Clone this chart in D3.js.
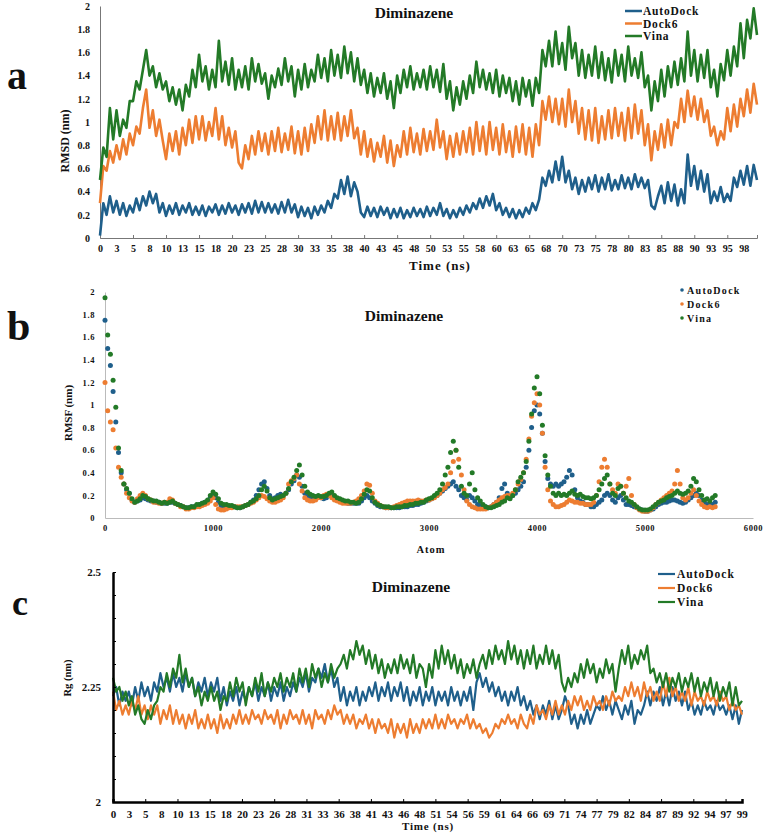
<!DOCTYPE html>
<html>
<head>
<meta charset="utf-8">
<script src="https://cdn.jsdelivr.net/npm/d3@7"></script>
<style>
  body { margin: 0; background: #fff; }
  svg text { font-family: "Liberation Serif", "Times New Roman", serif; font-weight: bold; fill: #111; }
</style>
</head>
<body>
<svg id="chart" width="767" height="833"></svg>
<script>
// colours of the three docking programs
var seriesNames = ["AutoDock", "Dock6", "Vina"];
var seriesColors = ["#1f5f8b", "#ed7d31", "#237a27"];

// ---- (a) RMSD, one reading every 0.5 ns ----
var rmsdTime = d3.range(0, 100, 0.5);
var rmsdAutoDock = [
  0.02,0.30,0.20,0.36,0.22,0.32,0.20,0.30,0.19,0.28, 0.22,0.34,0.24,0.36,0.28,0.40,0.30,0.38,0.22,0.30,
  0.19,0.28,0.21,0.30,0.20,0.28,0.22,0.30,0.20,0.27, 0.20,0.28,0.19,0.27,0.22,0.29,0.20,0.28,0.21,0.30,
  0.22,0.28,0.20,0.29,0.22,0.30,0.21,0.32,0.22,0.31, 0.22,0.30,0.22,0.29,0.21,0.31,0.22,0.33,0.22,0.29,
  0.18,0.27,0.19,0.26,0.17,0.27,0.20,0.28,0.22,0.32, 0.26,0.38,0.34,0.50,0.38,0.53,0.36,0.48,0.40,0.22,
  0.18,0.27,0.19,0.26,0.18,0.27,0.20,0.26,0.17,0.25, 0.18,0.26,0.17,0.24,0.18,0.26,0.19,0.25,0.18,0.27,
  0.19,0.26,0.20,0.30,0.19,0.25,0.17,0.24,0.18,0.26, 0.20,0.28,0.22,0.30,0.25,0.34,0.26,0.36,0.28,0.38,
  0.24,0.30,0.20,0.26,0.18,0.25,0.17,0.24,0.18,0.26, 0.21,0.30,0.24,0.33,0.52,0.45,0.58,0.48,0.66,0.50,
  0.70,0.48,0.58,0.42,0.52,0.38,0.50,0.40,0.52,0.42, 0.54,0.40,0.52,0.42,0.55,0.41,0.50,0.42,0.54,0.43,
  0.52,0.42,0.55,0.44,0.52,0.43,0.50,0.28,0.25,0.36, 0.45,0.30,0.48,0.32,0.46,0.28,0.42,0.30,0.72,0.45,
  0.62,0.42,0.58,0.40,0.55,0.30,0.40,0.32,0.44,0.31, 0.38,0.32,0.52,0.44,0.58,0.46,0.62,0.45,0.63,0.50
];
var rmsdDock6 = [
  0.30,0.62,0.58,0.75,0.65,0.80,0.68,0.85,0.72,0.90, 0.80,0.96,0.90,1.12,1.28,0.95,1.10,0.88,1.02,0.84,
  0.68,0.90,0.75,0.92,0.72,0.95,0.80,1.02,0.82,1.05, 0.85,1.05,0.84,1.00,0.88,1.12,0.85,1.05,0.80,0.95,
  0.78,0.92,0.65,0.60,0.80,0.68,0.88,0.72,0.92,0.75, 0.90,0.72,0.92,0.75,0.95,0.74,0.90,0.76,0.96,0.73,
  0.92,0.72,0.95,0.75,0.98,0.82,1.05,0.85,1.10,0.84, 1.05,0.85,1.08,0.84,1.05,0.88,1.10,0.86,0.95,0.72,
  0.92,0.70,0.85,0.66,0.82,0.70,0.88,0.65,0.84,0.62, 0.80,0.70,0.92,0.72,0.95,0.74,0.90,0.72,0.94,0.75,
  0.92,0.76,1.02,0.78,0.92,0.68,0.88,0.70,0.90,0.72, 0.92,0.74,0.95,0.72,1.00,0.75,0.96,0.72,1.00,0.76,
  0.95,0.72,0.98,0.74,0.92,0.70,0.96,0.74,0.98,0.72, 0.95,0.70,0.98,0.80,1.18,1.02,1.22,1.00,1.20,0.98,
  1.20,0.96,1.28,1.00,1.18,0.90,1.12,0.85,1.10,0.84, 1.12,0.82,1.05,0.85,1.10,0.86,1.12,0.88,1.08,0.84,
  1.12,0.86,1.15,0.90,1.10,0.80,0.98,0.67,0.92,0.76, 0.98,0.78,1.02,0.80,1.00,0.95,1.20,1.00,1.27,1.05,
  1.22,1.02,1.20,1.00,1.10,0.88,0.96,0.80,0.92,0.85, 1.12,0.92,1.15,0.96,1.20,1.05,1.28,1.08,1.33,1.15
];
var rmsdVina = [
  0.50,0.78,0.70,1.12,0.85,1.10,0.88,1.02,0.95,1.18, 1.18,1.35,1.28,1.45,1.62,1.40,1.48,1.30,1.42,1.28,
  1.35,1.18,1.30,1.15,1.28,1.10,1.32,1.22,1.45,1.30, 1.58,1.35,1.48,1.28,1.45,1.30,1.70,1.35,1.52,1.32,
  1.55,1.28,1.45,1.30,1.48,1.28,1.55,1.35,1.50,1.33, 1.42,1.20,1.40,1.30,1.46,1.32,1.55,1.35,1.48,1.22,
  1.45,1.28,1.50,1.30,1.45,1.35,1.58,1.38,1.55,1.35, 1.62,1.40,1.58,1.38,1.65,1.42,1.60,1.35,1.55,1.32,
  1.45,1.25,1.42,1.22,1.38,1.25,1.42,1.20,1.35,1.12, 1.40,1.25,1.45,1.30,1.48,1.28,1.42,1.30,1.45,1.28,
  1.48,1.30,1.45,1.26,1.50,1.20,1.35,1.10,1.30,1.15, 1.35,1.20,1.40,1.25,1.52,1.30,1.45,1.28,1.42,1.25,
  1.45,1.22,1.40,1.25,1.38,1.18,1.35,1.15,1.38,1.22, 1.36,1.14,1.38,1.25,1.62,1.48,1.70,1.48,1.78,1.50,
  1.68,1.45,1.82,1.55,1.68,1.40,1.62,1.38,1.58,1.40, 1.65,1.38,1.60,1.36,1.55,1.34,1.62,1.40,1.58,1.35,
  1.65,1.40,1.55,1.38,1.60,1.30,1.40,1.10,1.35,1.18, 1.45,1.22,1.48,1.30,1.52,1.32,1.55,1.35,1.78,1.40,
  1.62,1.35,1.58,1.38,1.62,1.30,1.45,1.22,1.50,1.36, 1.62,1.40,1.65,1.48,1.85,1.55,1.88,1.72,1.98,1.75
];
var rmsdXLabels = ["0","3","5","8","10","13","15","18","20","23","25","28","30","33","35","38","40","43","45","48",
  "50","53","55","58","60","63","65","68","70","73","75","78","80","83","85","88","90","93","95","98"];
var rmsdYTicks = [0, 0.2, 0.4, 0.6, 0.8, 1, 1.2, 1.4, 1.6, 1.8, 2];

// ---- (b) RMSF, one reading every 25 atoms ----
var rmsfAtom = d3.range(0, 5651, 25);
var rmsfAutoDock = [
  1.75,1.50,1.35,1.12,0.85,0.58,0.40,0.30,0.25,0.22, 0.16,0.14,0.15,0.16,0.18,0.17,0.16,0.15,0.15,0.14,
  0.14,0.13,0.13,0.13,0.14,0.14,0.13,0.12,0.11,0.10, 0.09,0.09,0.10,0.10,0.11,0.12,0.13,0.14,0.15,0.18,
  0.20,0.18,0.14,0.11,0.10,0.10,0.10,0.10,0.10,0.09, 0.09,0.10,0.11,0.12,0.14,0.16,0.20,0.25,0.30,0.32,
  0.26,0.20,0.17,0.18,0.20,0.21,0.20,0.22,0.25,0.30, 0.33,0.38,0.36,0.28,0.22,0.20,0.19,0.18,0.18,0.19,
  0.18,0.17,0.18,0.20,0.19,0.17,0.16,0.15,0.14,0.14, 0.13,0.13,0.13,0.13,0.13,0.15,0.18,0.20,0.18,0.15,
  0.13,0.11,0.10,0.10,0.09,0.09,0.09,0.09,0.09,0.09, 0.10,0.10,0.10,0.11,0.11,0.12,0.12,0.13,0.14,0.15,
  0.16,0.17,0.19,0.20,0.22,0.24,0.26,0.28,0.30,0.32, 0.28,0.25,0.20,0.18,0.16,0.20,0.18,0.15,0.12,0.11,
  0.10,0.10,0.09,0.10,0.12,0.14,0.18,0.26,0.30,0.22, 0.18,0.20,0.22,0.25,0.28,0.32,0.45,0.60,0.80,0.95,
  1.00,0.92,0.75,0.50,0.35,0.30,0.28,0.30,0.28,0.30, 0.32,0.36,0.42,0.38,0.25,0.18,0.15,0.14,0.12,0.12,
  0.10,0.10,0.12,0.14,0.16,0.20,0.22,0.20,0.16,0.14, 0.18,0.20,0.16,0.12,0.12,0.11,0.10,0.09,0.08,0.07,
  0.06,0.06,0.07,0.08,0.10,0.12,0.13,0.14,0.14,0.15, 0.16,0.16,0.15,0.14,0.13,0.14,0.16,0.18,0.20,0.22,
  0.20,0.16,0.14,0.12,0.12,0.12,0.14
];
var rmsfDock6 = [
  1.20,0.95,0.85,0.78,0.62,0.45,0.36,0.30,0.22,0.18, 0.15,0.14,0.17,0.20,0.22,0.20,0.17,0.16,0.14,0.14,
  0.13,0.13,0.14,0.14,0.17,0.16,0.13,0.12,0.10,0.10, 0.08,0.08,0.09,0.09,0.10,0.10,0.11,0.12,0.13,0.15,
  0.18,0.12,0.08,0.07,0.07,0.08,0.09,0.09,0.10,0.10, 0.10,0.10,0.11,0.12,0.13,0.14,0.16,0.18,0.20,0.19,
  0.17,0.15,0.14,0.14,0.15,0.16,0.18,0.22,0.30,0.33, 0.35,0.38,0.30,0.24,0.18,0.16,0.15,0.15,0.16,0.18,
  0.18,0.20,0.21,0.20,0.18,0.16,0.15,0.14,0.13,0.13, 0.13,0.13,0.14,0.15,0.17,0.20,0.24,0.30,0.29,0.22,
  0.15,0.13,0.11,0.10,0.09,0.09,0.09,0.10,0.11,0.12, 0.13,0.14,0.15,0.15,0.15,0.15,0.16,0.15,0.15,0.16,
  0.16,0.17,0.18,0.20,0.22,0.25,0.27,0.30,0.40,0.50, 0.60,0.52,0.38,0.25,0.15,0.12,0.10,0.09,0.08,0.08,
  0.08,0.08,0.09,0.10,0.12,0.14,0.16,0.18,0.19,0.20, 0.20,0.22,0.25,0.30,0.34,0.40,0.52,0.70,0.90,1.02,
  1.10,1.00,0.75,0.45,0.25,0.15,0.12,0.10,0.10,0.11, 0.12,0.14,0.16,0.15,0.14,0.14,0.13,0.13,0.12,0.12,
  0.12,0.14,0.20,0.32,0.45,0.52,0.45,0.30,0.25,0.22, 0.30,0.28,0.22,0.28,0.35,0.20,0.12,0.09,0.07,0.06,
  0.06,0.06,0.07,0.09,0.12,0.14,0.16,0.18,0.20,0.22, 0.24,0.30,0.42,0.30,0.18,0.16,0.18,0.22,0.25,0.20,
  0.15,0.12,0.10,0.09,0.10,0.09,0.10
];
var rmsfVina = [
  1.95,1.62,1.45,1.22,0.98,0.62,0.42,0.30,0.26,0.22, 0.17,0.14,0.15,0.17,0.20,0.19,0.17,0.16,0.15,0.15,
  0.14,0.13,0.14,0.13,0.14,0.15,0.13,0.12,0.11,0.10, 0.09,0.09,0.10,0.10,0.12,0.12,0.13,0.14,0.16,0.20,
  0.23,0.21,0.17,0.13,0.12,0.12,0.11,0.11,0.10,0.09, 0.09,0.10,0.11,0.12,0.14,0.15,0.17,0.20,0.25,0.28,
  0.24,0.18,0.16,0.17,0.18,0.19,0.20,0.22,0.26,0.32, 0.36,0.42,0.47,0.38,0.28,0.23,0.21,0.20,0.19,0.20,
  0.19,0.19,0.20,0.22,0.23,0.20,0.18,0.17,0.16,0.15, 0.15,0.14,0.14,0.13,0.14,0.17,0.21,0.25,0.24,0.18,
  0.14,0.12,0.11,0.10,0.10,0.10,0.09,0.09,0.10,0.10, 0.10,0.11,0.11,0.12,0.12,0.13,0.13,0.14,0.14,0.16,
  0.17,0.18,0.20,0.22,0.25,0.30,0.38,0.45,0.58,0.68, 0.60,0.45,0.28,0.22,0.20,0.30,0.40,0.25,0.18,0.15,
  0.12,0.10,0.09,0.09,0.10,0.11,0.12,0.14,0.15,0.18, 0.17,0.20,0.25,0.32,0.36,0.40,0.50,0.68,0.92,1.15,
  1.25,1.10,0.82,0.55,0.38,0.28,0.22,0.20,0.22,0.20, 0.21,0.20,0.22,0.24,0.21,0.20,0.21,0.19,0.18,0.18,
  0.17,0.18,0.20,0.25,0.30,0.35,0.38,0.30,0.22,0.20, 0.26,0.28,0.22,0.18,0.15,0.14,0.12,0.10,0.08,0.07,
  0.07,0.07,0.08,0.10,0.12,0.14,0.15,0.16,0.18,0.19, 0.20,0.22,0.24,0.22,0.21,0.22,0.24,0.28,0.35,0.32,
  0.25,0.20,0.16,0.17,0.15,0.18,0.20
];
var rmsfXTicks = [0, 1000, 2000, 3000, 4000, 5000, 6000];
var rmsfYTicks = [0, 0.2, 0.4, 0.6, 0.8, 1, 1.2, 1.4, 1.6, 1.8, 2];

// ---- (c) Rg, one reading every 0.5 ns ----
var rgTime = d3.range(0, 100, 0.5);
var rgAutoDock = [
  2.23,2.25,2.21,2.24,2.22,2.24,2.21,2.25,2.22,2.26, 2.23,2.25,2.22,2.26,2.24,2.28,2.25,2.27,2.24,2.28,
  2.25,2.27,2.24,2.28,2.25,2.27,2.23,2.26,2.24,2.27, 2.23,2.26,2.24,2.27,2.22,2.25,2.21,2.24,2.22,2.25,
  2.21,2.24,2.22,2.25,2.23,2.26,2.22,2.25,2.23,2.26, 2.22,2.25,2.23,2.26,2.22,2.25,2.23,2.26,2.24,2.27,
  2.25,2.28,2.24,2.27,2.26,2.29,2.27,2.30,2.26,2.29, 2.25,2.27,2.22,2.25,2.21,2.24,2.22,2.25,2.21,2.24,
  2.22,2.25,2.23,2.26,2.22,2.25,2.23,2.26,2.22,2.25, 2.23,2.26,2.22,2.25,2.21,2.24,2.22,2.25,2.21,2.24,
  2.22,2.25,2.21,2.24,2.22,2.24,2.21,2.25,2.22,2.24, 2.21,2.24,2.22,2.25,2.20,2.26,2.28,2.25,2.27,2.24,
  2.26,2.23,2.25,2.22,2.24,2.21,2.24,2.22,2.25,2.21, 2.23,2.20,2.22,2.19,2.21,2.18,2.21,2.19,2.22,2.18,
  2.21,2.18,2.20,2.23,2.21,2.17,2.19,2.16,2.19,2.17, 2.20,2.17,2.19,2.21,2.20,2.23,2.20,2.22,2.19,2.22,
  2.20,2.18,2.21,2.19,2.22,2.17,2.20,2.19,2.21,2.24, 2.21,2.24,2.22,2.25,2.21,2.24,2.21,2.25,2.22,2.24,
  2.21,2.24,2.20,2.22,2.19,2.21,2.19,2.22,2.20,2.21, 2.19,2.22,2.20,2.21,2.19,2.21,2.18,2.21,2.17,2.20
];
var rgDock6 = [
  2.24,2.20,2.22,2.19,2.21,2.19,2.22,2.20,2.23,2.19, 2.21,2.18,2.21,2.19,2.21,2.17,2.20,2.18,2.21,2.17,
  2.20,2.17,2.19,2.16,2.19,2.17,2.20,2.16,2.18,2.16, 2.19,2.16,2.18,2.15,2.19,2.16,2.18,2.16,2.19,2.17,
  2.20,2.17,2.19,2.17,2.20,2.18,2.19,2.17,2.20,2.18, 2.19,2.17,2.20,2.16,2.19,2.17,2.20,2.18,2.19,2.17,
  2.20,2.17,2.19,2.16,2.20,2.18,2.19,2.17,2.20,2.18, 2.21,2.19,2.20,2.17,2.19,2.17,2.19,2.16,2.18,2.17,
  2.19,2.16,2.18,2.15,2.18,2.16,2.17,2.15,2.18,2.14, 2.17,2.15,2.17,2.14,2.18,2.15,2.17,2.15,2.18,2.16,
  2.18,2.16,2.19,2.16,2.18,2.16,2.19,2.17,2.18,2.16, 2.18,2.17,2.19,2.16,2.18,2.16,2.17,2.15,2.16,2.14,
  2.15,2.17,2.16,2.18,2.17,2.19,2.17,2.18,2.16,2.19, 2.17,2.16,2.19,2.17,2.21,2.19,2.20,2.18,2.21,2.19,
  2.22,2.19,2.21,2.19,2.22,2.20,2.23,2.21,2.23,2.20, 2.22,2.20,2.23,2.21,2.22,2.20,2.23,2.21,2.24,2.22,
  2.23,2.22,2.25,2.23,2.26,2.23,2.25,2.22,2.26,2.23, 2.25,2.22,2.24,2.22,2.26,2.23,2.27,2.23,2.25,2.22,
  2.24,2.22,2.25,2.21,2.24,2.22,2.23,2.21,2.24,2.22, 2.23,2.21,2.24,2.22,2.23,2.20,2.22,2.20,2.21,2.19
];
var rgVina = [
  2.27,2.24,2.25,2.22,2.24,2.21,2.23,2.19,2.21,2.18, 2.17,2.20,2.18,2.21,2.22,2.25,2.24,2.28,2.25,2.29,
  2.27,2.32,2.26,2.29,2.25,2.27,2.23,2.25,2.21,2.24, 2.22,2.25,2.22,2.24,2.20,2.23,2.22,2.26,2.23,2.27,
  2.24,2.26,2.21,2.25,2.23,2.27,2.24,2.28,2.23,2.26, 2.24,2.27,2.25,2.28,2.24,2.27,2.25,2.28,2.24,2.29,
  2.26,2.29,2.25,2.30,2.27,2.29,2.25,2.28,2.26,2.30, 2.27,2.29,2.30,2.32,2.29,2.33,2.31,2.35,2.32,2.34,
  2.30,2.33,2.29,2.32,2.28,2.31,2.27,2.30,2.28,2.31, 2.28,2.32,2.29,2.31,2.28,2.32,2.27,2.30,2.29,2.25,
  2.30,2.27,2.33,2.29,2.34,2.30,2.33,2.29,2.32,2.28, 2.31,2.27,2.30,2.28,2.31,2.27,2.30,2.32,2.29,2.33,
  2.30,2.34,2.31,2.33,2.30,2.35,2.31,2.34,2.30,2.33, 2.29,2.33,2.30,2.34,2.29,2.32,2.30,2.34,2.30,2.33,
  2.29,2.32,2.26,2.24,2.27,2.25,2.28,2.26,2.30,2.27, 2.31,2.28,2.30,2.26,2.29,2.27,2.31,2.28,2.30,2.24,
  2.29,2.33,2.30,2.34,2.29,2.32,2.30,2.33,2.31,2.34, 2.28,2.29,2.26,2.28,2.25,2.28,2.24,2.27,2.25,2.28,
  2.24,2.27,2.25,2.28,2.24,2.27,2.23,2.26,2.24,2.27, 2.23,2.26,2.22,2.25,2.23,2.26,2.21,2.25,2.21,2.22
];
var rgXLabels = ["0","3","5","8","10","13","15","18","20","23","26","28","31","33","36","38","41","43","46","48",
  "51","54","56","59","61","64","66","69","71","74","77","79","82","84","87","89","92","94","97","99"];
var rgLabelStep = 2.55; // ns between two category labels
var rgYTicks = [2, 2.25, 2.5];

var serif = '"Liberation Serif", "Times New Roman", serif';
var svg = d3.select("#chart");

function styleAxis(g, size, color) {
  g.attr("font-family", serif).attr("font-size", size).attr("font-weight", "bold");
  g.selectAll("text").attr("fill", "#111").attr("font-family", serif);
  g.selectAll("path, line").attr("stroke", color);
}

function drawLine(g, x, y, xs, ys, color, w) {
  var line = d3.line().x(function(d, i) { return x(xs[i]); }).y(function(d) { return y(d); });
  g.append("path").datum(ys)
    .attr("d", line)
    .attr("fill", "none")
    .attr("stroke", color)
    .attr("stroke-width", w)
    .attr("stroke-linejoin", "round");
}

function label(txt, x, y, size, opts) {
  opts = opts || {};
  var t = svg.append("text").attr("x", x).attr("y", y).text(txt)
    .attr("font-family", serif)
    .attr("font-weight", opts.weight || "bold")
    .attr("font-size", size)
    .attr("text-anchor", opts.anchor || "middle");
  if (opts.spacing) t.attr("letter-spacing", opts.spacing);
  if (opts.rotate) t.attr("transform", "rotate(-90," + x + "," + y + ")");
  return t;
}

// ================= panel a =================
var xa = d3.scaleLinear().domain([0, 99.5]).range([100, 757]);
var ya = d3.scaleLinear().domain([0, 2]).range([238, 6]);
var ga = svg.append("g");

ga.append("g").attr("transform", "translate(0,238)")
  .call(d3.axisBottom(xa).tickValues(d3.range(5, 100, 5)).tickFormat("").tickSizeInner(-3).tickSizeOuter(-3))
  .call(styleAxis, 10, "#777");
ga.append("g").attr("transform", "translate(0,238)")
  .call(d3.axisBottom(xa).tickValues(rmsdXLabels.map(function(d, i) { return i * 2.5; }))
    .tickFormat(function(d, i) { return rmsdXLabels[i]; }).tickSize(0).tickPadding(7))
  .call(styleAxis, 10, "none")
  .select(".domain").remove();
ga.append("g").attr("transform", "translate(100,0)")
  .call(d3.axisLeft(ya).tickValues(rmsdYTicks).tickFormat(d3.format("~g")).tickSize(0).tickPadding(10))
  .call(styleAxis, 10, "#777");

[rmsdAutoDock, rmsdDock6, rmsdVina].forEach(function(vals, k) {
  drawLine(ga, xa, ya, rmsdTime, vals, seriesColors[k], 2.6);
});

label("a", 7, 89, 40, {anchor: "start"});
label("Diminazene", 414, 18, 15.5);
label("RMSD (nm)", 69, 141, 12, {rotate: true});
label("Time (ns)", 440, 270, 13, {spacing: 1});
seriesNames.forEach(function(n, k) {
  var yy = 11 + k * 12.5;
  svg.append("line").attr("x1", 625).attr("x2", 642).attr("y1", yy).attr("y2", yy)
    .attr("stroke", seriesColors[k]).attr("stroke-width", 2.5);
  label(n, 643, yy + 4, 11.5, {anchor: "start", spacing: 0.8});
});

// ================= panel b =================
var xb = d3.scaleLinear().domain([0, 6000]).range([105, 753]);
var yb = d3.scaleLinear().domain([0, 2]).range([518, 292]);
var gb = svg.append("g");

gb.append("g").attr("transform", "translate(0,518)")
  .call(d3.axisBottom(xb).tickValues(rmsfXTicks).tickFormat(d3.format("d")).tickSize(0).tickPadding(7))
  .call(styleAxis, 8.5, "#bbb");
gb.append("g").attr("transform", "translate(105,0)")
  .call(d3.axisLeft(yb).tickValues(rmsfYTicks).tickFormat(d3.format("~g")).tickSize(0).tickPadding(10))
  .call(styleAxis, 8.5, "#bbb");
gb.selectAll("text").attr("letter-spacing", 0.6);

[rmsfAutoDock, rmsfDock6, rmsfVina].forEach(function(vals, k) {
  gb.append("g").selectAll("circle")
    .data(vals)
    .enter().append("circle")
    .attr("cx", function(d, i) { return xb(rmsfAtom[i]); })
    .attr("cy", function(d) { return yb(d); })
    .attr("r", 2.5)
    .attr("fill", seriesColors[k]);
});

label("b", 7, 340, 42, {anchor: "start"});
label("Diminazene", 404, 321, 15.5);
label("RMSF (nm)", 72, 413, 11, {rotate: true, weight: "normal"});
label("Atom", 431, 553, 10.5, {spacing: 1});
seriesNames.forEach(function(n, k) {
  var yy = 290 + k * 14;
  svg.append("circle").attr("cx", 682).attr("cy", yy).attr("r", 1.8).attr("fill", seriesColors[k]);
  label(n, 687, yy + 3.5, 10, {anchor: "start", spacing: 1.3});
});

// ================= panel c =================
var xc = d3.scaleLinear().domain([0, 99.5]).range([113, 742]);
var yc = d3.scaleLinear().domain([2, 2.5]).range([802, 572]);
var gc = svg.append("g");

[rgAutoDock, rgDock6, rgVina].forEach(function(vals, k) {
  drawLine(gc, xc, yc, rgTime, vals, seriesColors[k], 2.2);
});

gc.append("g").attr("transform", "translate(0,802)")
  .call(d3.axisBottom(xc).tickValues(d3.range(0, 40, 2).map(function(i) { return i * rgLabelStep; }))
    .tickFormat("").tickSizeInner(-3).tickSizeOuter(-3))
  .call(styleAxis, 11, "#000");
gc.append("g").attr("transform", "translate(0,802)")
  .call(d3.axisBottom(xc).tickValues(rgXLabels.map(function(d, i) { return i * rgLabelStep; }))
    .tickFormat(function(d, i) { return rgXLabels[i]; }).tickSize(0).tickPadding(8))
  .call(styleAxis, 11, "none")
  .select(".domain").remove();
gc.append("g").attr("transform", "translate(113,0)")
  .call(d3.axisLeft(yc).tickValues(d3.range(0, 11).map(function(i) { return 2 + i * 0.05; }))
    .tickFormat("").tickSizeInner(-3).tickSizeOuter(0))
  .call(styleAxis, 11, "#000");
gc.append("g").attr("transform", "translate(113,0)")
  .call(d3.axisLeft(yc).tickValues(rgYTicks).tickFormat(d3.format("~g")).tickSize(0).tickPadding(12))
  .call(styleAxis, 11, "none")
  .select(".domain").remove();
gc.selectAll(".domain").attr("stroke-width", 2.5);

label("c", 12, 615, 36, {anchor: "start"});
label("Diminazene", 411, 592, 15.5);
label("Rg (nm)", 71, 678, 10.5, {rotate: true});
label("Time (ns)", 428, 830, 11, {spacing: 0.8});
seriesNames.forEach(function(n, k) {
  var yy = 574 + k * 14;
  svg.append("line").attr("x1", 658).attr("x2", 675).attr("y1", yy).attr("y2", yy)
    .attr("stroke", seriesColors[k]).attr("stroke-width", 2.2);
  label(n, 677, yy + 4, 11.5, {anchor: "start", spacing: 1});
});
</script>
</body>
</html>
